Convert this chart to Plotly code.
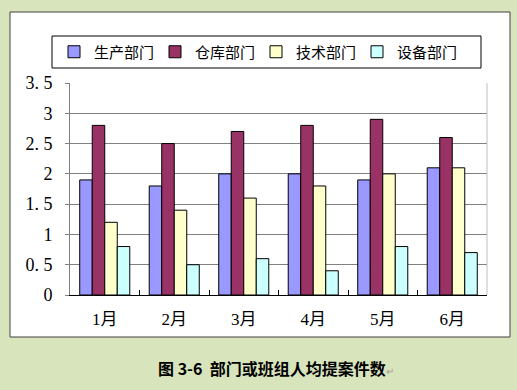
import plotly.graph_objects as go

months = ["1月", "2月", "3月", "4月", "5月", "6月"]
series_names = ["生产部门", "仓库部门", "技术部门", "设备部门"]
prod = [1.9, 1.8, 2.0, 2.0, 1.9, 2.1]
ware = [2.8, 2.5, 2.7, 2.8, 2.9, 2.6]
tech = [1.2, 1.4, 1.6, 1.8, 2.0, 2.1]
equip = [0.8, 0.5, 0.6, 0.4, 0.8, 0.7]
colors = ["#9999FF", "#993366", "#FFFFCC", "#CCFFFF"]
ytick_vals = [0, 0.5, 1, 1.5, 2, 2.5, 3, 3.5]
ytick_text = ["0", "0. 5", "1", "1. 5", "2", "2. 5", "3", "3. 5"]
caption = "图 3-6  部门或班组人均提案件数"

W, H = 517, 390
L, R, T, B = 70, 30, 83, 95
pw, ph = W - L - R, H - T - B

def px(x):
    return (x - L) / pw

def py(y):
    return (H - B - y) / ph

fig = go.Figure()
for name, vals, c in zip(series_names, [prod, ware, tech, equip], colors):
    fig.add_trace(go.Bar(x=months, y=vals, name=name, marker=dict(color=c, line=dict(color="#000000", width=1))))

font_main = "Liberation Serif, Noto Sans CJK SC, serif"
fig.update_layout(
    width=W, height=H,
    margin=dict(l=L, r=R, t=T, b=B, autoexpand=False),
    paper_bgcolor="#D8E4BC",
    plot_bgcolor="#FFFFFF",
    barmode="group",
    bargap=0.28,
    bargroupgap=0,
    showlegend=True,
    legend=dict(orientation="h", x=px(54), y=py(52), xanchor="left", yanchor="middle",
                bgcolor="rgba(0,0,0,0)", borderwidth=0,
                font=dict(family="Noto Sans CJK SC, sans-serif", size=15, color="#000"),
                entrywidth=56, entrywidthmode="pixels", itemwidth=30, tracegroupgap=0),
    xaxis=dict(showline=True, linecolor="#000000", linewidth=1, ticks="inside", ticklen=5,
               tickson="boundaries", tickcolor="#000", showgrid=False, ticklabelstandoff=9,
               tickfont=dict(family=font_main, size=17, color="#000")),
    yaxis=dict(range=[0, 3.5], tickvals=ytick_vals, ticktext=ytick_text,
               showgrid=True, gridcolor="#808080", gridwidth=1,
               showline=True, linecolor="#808080", ticks="outside", ticklen=4, tickcolor="#808080",
               zeroline=False, ticklabelstandoff=9,
               tickfont=dict(family=font_main, size=18, color="#000")),
    shapes=[
        dict(type="rect", xref="paper", yref="paper", x0=px(10), x1=px(510), y0=py(337), y1=py(12),
             fillcolor="#FFFFFF", line=dict(color="#404040", width=1), layer="below"),
        dict(type="rect", xref="paper", yref="paper", x0=px(52), x1=px(481), y0=py(68), y1=py(36),
             fillcolor="rgba(0,0,0,0)", line=dict(color="#000000", width=1)),
        dict(type="line", xref="paper", yref="paper", x0=1, x1=1, y0=0, y1=1,
             line=dict(color="#C0C0C0", width=1)),
    ],
    annotations=[
        dict(text="<b>" + caption + "</b><span style='color:#A0A0A0;font-size:10px'>↵</span>",
             xref="paper", yref="paper", x=px(276), y=py(368), xanchor="center", yanchor="middle",
             showarrow=False,
             font=dict(family="Noto Sans CJK SC, sans-serif", size=16, color="#000")),
    ],
)
fig.write_html("out.html", config={"displayModeBar": False},
               post_script="document.body.style.margin='0';document.body.style.background='#D8E4BC';")
